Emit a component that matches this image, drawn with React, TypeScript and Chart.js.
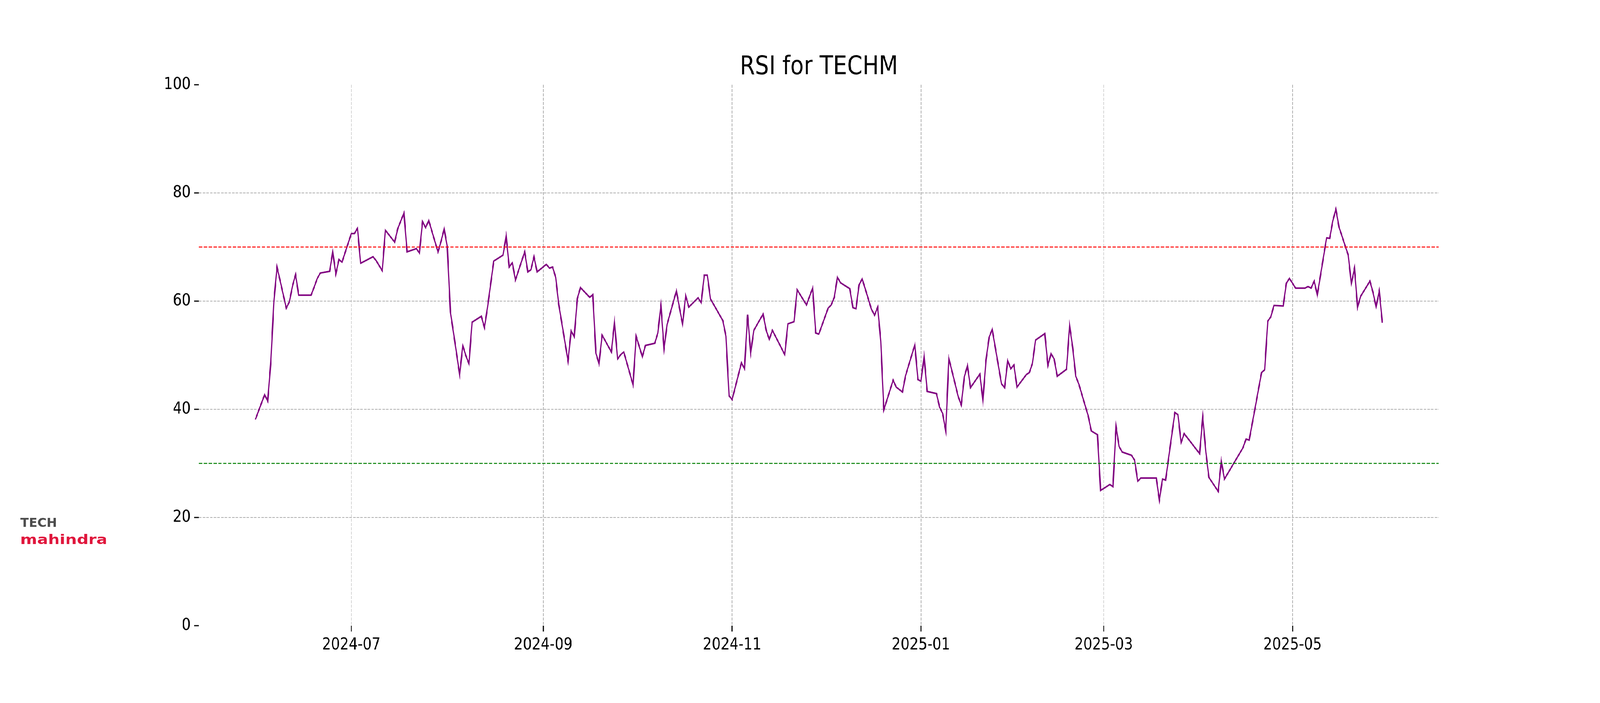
import React, { useEffect, useRef, useState } from 'react';
import { Chart, registerables } from 'chart.js';

Chart.register(...registerables);

const titleText = 'RSI for TECHM';
const logoTop = 'TECH';
const logoBottom = 'mahindra';

const dates = [
  '2024-05-31', '2024-06-03', '2024-06-04', '2024-06-05', '2024-06-06', '2024-06-07',
  '2024-06-10', '2024-06-11', '2024-06-12', '2024-06-13', '2024-06-14', '2024-06-18',
  '2024-06-19', '2024-06-20', '2024-06-21', '2024-06-24', '2024-06-25', '2024-06-26',
  '2024-06-27', '2024-06-28', '2024-07-01', '2024-07-02', '2024-07-03', '2024-07-04',
  '2024-07-08', '2024-07-09', '2024-07-11', '2024-07-12', '2024-07-15', '2024-07-16',
  '2024-07-18', '2024-07-19', '2024-07-22', '2024-07-23', '2024-07-24', '2024-07-25',
  '2024-07-26', '2024-07-29', '2024-07-30', '2024-07-31', '2024-08-01', '2024-08-02',
  '2024-08-05', '2024-08-06', '2024-08-07', '2024-08-08', '2024-08-09', '2024-08-12',
  '2024-08-13', '2024-08-14', '2024-08-16', '2024-08-19', '2024-08-20', '2024-08-21',
  '2024-08-22', '2024-08-23', '2024-08-26', '2024-08-27', '2024-08-28', '2024-08-29',
  '2024-08-30', '2024-09-02', '2024-09-03', '2024-09-04', '2024-09-05', '2024-09-06',
  '2024-09-09', '2024-09-10', '2024-09-11', '2024-09-12', '2024-09-13', '2024-09-16',
  '2024-09-17', '2024-09-18', '2024-09-19', '2024-09-20', '2024-09-23', '2024-09-24',
  '2024-09-25', '2024-09-26', '2024-09-27', '2024-09-30', '2024-10-01', '2024-10-03',
  '2024-10-04', '2024-10-07', '2024-10-08', '2024-10-09', '2024-10-10', '2024-10-11',
  '2024-10-14', '2024-10-15', '2024-10-16', '2024-10-17', '2024-10-18', '2024-10-21',
  '2024-10-22', '2024-10-23', '2024-10-24', '2024-10-25', '2024-10-29', '2024-10-30',
  '2024-10-31', '2024-11-01', '2024-11-04', '2024-11-05', '2024-11-06', '2024-11-07',
  '2024-11-08', '2024-11-11', '2024-11-12', '2024-11-13', '2024-11-14', '2024-11-18',
  '2024-11-19', '2024-11-21', '2024-11-22', '2024-11-25', '2024-11-27', '2024-11-28',
  '2024-11-29', '2024-12-02', '2024-12-03', '2024-12-04', '2024-12-05', '2024-12-06',
  '2024-12-09', '2024-12-10', '2024-12-11', '2024-12-12', '2024-12-13', '2024-12-16',
  '2024-12-17', '2024-12-18', '2024-12-19', '2024-12-20', '2024-12-23', '2024-12-24',
  '2024-12-26', '2024-12-27', '2024-12-30', '2024-12-31', '2025-01-01', '2025-01-02',
  '2025-01-03', '2025-01-06', '2025-01-07', '2025-01-08', '2025-01-09', '2025-01-10',
  '2025-01-13', '2025-01-14', '2025-01-15', '2025-01-16', '2025-01-17', '2025-01-20',
  '2025-01-21', '2025-01-22', '2025-01-23', '2025-01-24', '2025-01-27', '2025-01-28',
  '2025-01-29', '2025-01-30', '2025-01-31', '2025-02-01', '2025-02-04', '2025-02-05',
  '2025-02-06', '2025-02-07', '2025-02-10', '2025-02-11', '2025-02-12', '2025-02-13',
  '2025-02-14', '2025-02-17', '2025-02-18', '2025-02-19', '2025-02-20', '2025-02-21',
  '2025-02-24', '2025-02-25', '2025-02-27', '2025-02-28', '2025-03-03', '2025-03-04',
  '2025-03-05', '2025-03-06', '2025-03-07', '2025-03-10', '2025-03-11', '2025-03-12',
  '2025-03-13', '2025-03-18', '2025-03-19', '2025-03-20', '2025-03-21', '2025-03-24',
  '2025-03-25', '2025-03-26', '2025-03-27', '2025-04-01', '2025-04-02', '2025-04-03',
  '2025-04-04', '2025-04-07', '2025-04-08', '2025-04-09', '2025-04-15', '2025-04-16',
  '2025-04-17', '2025-04-21', '2025-04-22', '2025-04-23', '2025-04-24', '2025-04-25',
  '2025-04-28', '2025-04-29', '2025-04-30', '2025-05-02', '2025-05-05', '2025-05-06',
  '2025-05-07', '2025-05-08', '2025-05-09', '2025-05-12', '2025-05-13', '2025-05-14',
  '2025-05-15', '2025-05-16', '2025-05-19', '2025-05-20', '2025-05-21', '2025-05-22',
  '2025-05-23', '2025-05-26', '2025-05-27', '2025-05-28', '2025-05-29', '2025-05-30',
];

const rsiValues = [
  38.1, 42.7, 41.5, 48.7, 60.0, 66.3,
  58.7, 59.9, 62.8, 64.9, 61.1, 61.1,
  62.6, 64.2, 65.2, 65.5, 69.2, 65.0,
  67.7, 67.2, 72.5, 72.5, 73.5, 67.0,
  68.2, 67.5, 65.6, 73.1, 70.9, 73.4,
  76.3, 69.1, 69.7, 68.9, 74.7, 73.6,
  74.9, 69.1, 71.1, 73.4, 70.0, 58.0,
  46.4, 51.8, 49.9, 48.4, 56.1, 57.2,
  55.1, 58.9, 67.4, 68.5, 72.1, 66.3,
  67.1, 63.9, 69.1, 65.4, 65.8, 68.2,
  65.4, 66.8, 66.1, 66.3, 64.4, 59.4,
  48.9, 54.5, 53.4, 60.5, 62.5, 60.7,
  61.2, 50.4, 48.4, 53.7, 50.6, 56.1,
  49.3, 50.1, 50.6, 44.5, 53.5, 49.7,
  51.8, 52.2, 54.1, 59.2, 51.2, 55.7,
  61.9, 58.7, 55.7, 61.0, 58.9, 60.6,
  59.7, 64.8, 64.8, 60.4, 56.4, 53.5,
  42.5, 41.8, 48.6, 47.5, 57.5, 50.4,
  54.6, 57.6, 54.6, 52.9, 54.6, 50.1,
  55.8, 56.2, 62.1, 59.3, 62.4, 54.1,
  53.9, 58.7, 59.3, 60.7, 64.4, 63.4,
  62.3, 58.8, 58.6, 63.0, 64.1, 58.5,
  57.4, 58.9, 52.6, 39.9, 45.4, 44.1,
  43.2, 46.2, 51.9, 45.5, 45.2, 49.8,
  43.3, 42.9, 40.4, 39.2, 36.0, 49.4,
  42.4, 40.8, 46.0, 48.1, 44.0, 46.5,
  41.6, 49.1, 53.3, 54.8, 44.7, 44.0,
  49.0, 47.5, 48.2, 44.1, 46.4, 46.8,
  48.5, 52.8, 54.0, 48.1, 50.3, 49.3,
  46.1, 47.4, 55.5, 51.4, 46.1, 44.6,
  38.8, 36.0, 35.3, 25.0, 26.1, 25.7,
  36.8, 33.1, 32.1, 31.5, 30.6, 26.7,
  27.3, 27.3, 23.2, 27.1, 26.9, 39.4,
  39.0, 33.8, 35.5, 31.8, 38.6, 32.1,
  27.4, 24.8, 30.5, 27.1, 32.9, 34.5,
  34.3, 46.8, 47.3, 56.3, 57.1, 59.2,
  59.1, 63.3, 64.2, 62.4, 62.4, 62.7,
  62.4, 63.7, 61.1, 71.7, 71.6, 74.8,
  77.0, 73.7, 68.5, 63.2, 66.1, 58.8,
  60.9, 63.7, 61.6, 58.9, 61.9, 56.0,
];

const xTickLabels = ['2024-07', '2024-09', '2024-11', '2025-01', '2025-03', '2025-05'];
const yTickValues = [0, 20, 40, 60, 80, 100];
const overboughtLevel = 70;
const oversoldLevel = 30;

const DAY_MS = 86400000;
const toDay = (s: string) => {
  const parts = s.split('-').map(Number);
  return Date.UTC(parts[0], parts[1] - 1, parts[2] || 1) / DAY_MS;
};

const FONT = '"DejaVu Sans", "Liberation Sans", sans-serif';
const BASE_W = 4800;
const BASE_H = 1800;

export default function App() {
  const canvasRef = useRef<HTMLCanvasElement | null>(null);
  const [vp, setVp] = useState(() => ({
    w: typeof window !== 'undefined' && window.innerWidth ? window.innerWidth : BASE_W,
    h: typeof window !== 'undefined' && window.innerHeight ? window.innerHeight : BASE_H,
  }));

  useEffect(() => {
    const onResize = () => setVp({ w: window.innerWidth || BASE_W, h: window.innerHeight || BASE_H });
    window.addEventListener('resize', onResize);
    return () => window.removeEventListener('resize', onResize);
  }, []);

  useEffect(() => {
    const canvas = canvasRef.current;
    if (!canvas) return;

    const points = dates.map((d, i) => ({ x: toDay(d), y: rsiValues[i] }));
    const first = points[0].x;
    const last = points[points.length - 1].x;
    const span = last - first;
    const xMin = first - span * 0.05;
    const xMax = last + span * 0.05;
    const tickDays = xTickLabels.map((l) => toDay(l + '-01'));

    const decorations = {
      id: 'decorations',
      afterDatasetsDraw(chart: any) {
        const { ctx, chartArea, scales } = chart;
        const y = scales.y;
        const lines: [number, string][] = [
          [overboughtLevel, '#ff0000'],
          [oversoldLevel, '#008000'],
        ];
        lines.forEach(([v, c]) => {
          const py = y.getPixelForValue(v);
          ctx.save();
          ctx.strokeStyle = c;
          ctx.lineWidth = 2.5;
          ctx.setLineDash([10, 4.5]);
          ctx.beginPath();
          ctx.moveTo(chartArea.left, py);
          ctx.lineTo(chartArea.right, py);
          ctx.stroke();
          ctx.restore();
        });
      },
      afterDraw(chart: any) {
        const { ctx, chartArea } = chart;
        ctx.save();
        ctx.fillStyle = '#000';
        ctx.font = `66px ${FONT}`;
        ctx.textAlign = 'center';
        ctx.textBaseline = 'alphabetic';
        ctx.fillText(titleText, (chartArea.left + chartArea.right) / 2, 190);
        ctx.restore();

        ctx.save();
        ctx.textAlign = 'left';
        ctx.textBaseline = 'alphabetic';
        ctx.font = `bold 32px ${FONT}`;
        ctx.fillStyle = '#4d4d4d';
        const w1 = ctx.measureText(logoTop).width;
        ctx.translate(61, 1349);
        ctx.scale(110 / w1, 1);
        ctx.fillText(logoTop, 0, 0);
        ctx.restore();

        ctx.save();
        ctx.textAlign = 'left';
        ctx.textBaseline = 'alphabetic';
        ctx.font = `600 34px ${FONT}`;
        ctx.fillStyle = '#e0163c';
        const w2 = ctx.measureText(logoBottom).width;
        ctx.translate(61, 1393);
        ctx.scale(261 / w2, 1);
        ctx.fillText(logoBottom, 0, 0);
        ctx.restore();
      },
    };

    const chart = new Chart(canvas, {
      type: 'line',
      data: {
        datasets: [
          {
            data: points,
            borderColor: '#800080',
            borderWidth: 4,
            pointRadius: 0,
            tension: 0,
            fill: false,
          },
        ],
      },
      options: {
        animation: false,
        responsive: false,
        devicePixelRatio: 1,
        parsing: false as any,
        layout: { padding: { left: 0, right: 484, top: 217, bottom: 0 } },
        plugins: {
          legend: { display: false },
          tooltip: { enabled: false },
          title: { display: false },
        },
        scales: {
          x: {
            type: 'linear',
            min: xMin,
            max: xMax,
            afterBuildTicks: (s: any) => {
              s.ticks = tickDays.map((v) => ({ value: v }));
            },
            afterFit: (s: any) => {
              s.height = 198;
            },
            ticks: {
              autoSkip: false,
              maxRotation: 0,
              minRotation: 0,
              padding: 10,
              color: '#000',
              font: { family: FONT, size: 42 },
              callback: (v: any) => {
                const i = tickDays.indexOf(Number(v));
                return i >= 0 ? xTickLabels[i] : '';
              },
            },
            grid: {
              color: '#b0b0b0',
              lineWidth: 2,
              drawTicks: true,
              tickLength: 15,
              tickColor: '#000',
              tickWidth: 3,
              tickBorderDash: [],
            } as any,
            border: { display: false, dash: [7.7, 3.3] } as any,
          },
          y: {
            type: 'linear',
            min: 0,
            max: 100,
            afterBuildTicks: (s: any) => {
              s.ticks = yTickValues.map((v) => ({ value: v }));
            },
            afterFit: (s: any) => {
              s.width = 597;
            },
            ticks: {
              padding: 10,
              color: '#000',
              font: { family: FONT, size: 42 },
              callback: (v: any) => String(v),
            },
            grid: {
              color: (c: any) =>
                c.tick && (c.tick.value === 0 || c.tick.value === 100) ? 'rgba(0,0,0,0)' : '#b0b0b0',
              lineWidth: 2,
              drawTicks: true,
              tickLength: 15,
              tickColor: '#000',
              tickWidth: 3,
              tickBorderDash: [],
            } as any,
            border: { display: false, dash: [7.7, 3.3] } as any,
          },
        },
      },
      plugins: [decorations],
    } as any);

    return () => {
      chart.destroy();
    };
  }, []);

  const sx = vp.w / BASE_W;
  const sy = vp.h / BASE_H;

  return (
    <div
      style={{
        position: 'fixed',
        left: 0,
        top: 0,
        width: BASE_W,
        height: BASE_H,
        background: '#fff',
        transform: `scale(${sx}, ${sy})`,
        transformOrigin: '0 0',
      }}
    >
      <canvas
        ref={canvasRef}
        width={BASE_W}
        height={BASE_H}
        style={{ width: BASE_W, height: BASE_H, display: 'block' }}
      />
    </div>
  );
}
